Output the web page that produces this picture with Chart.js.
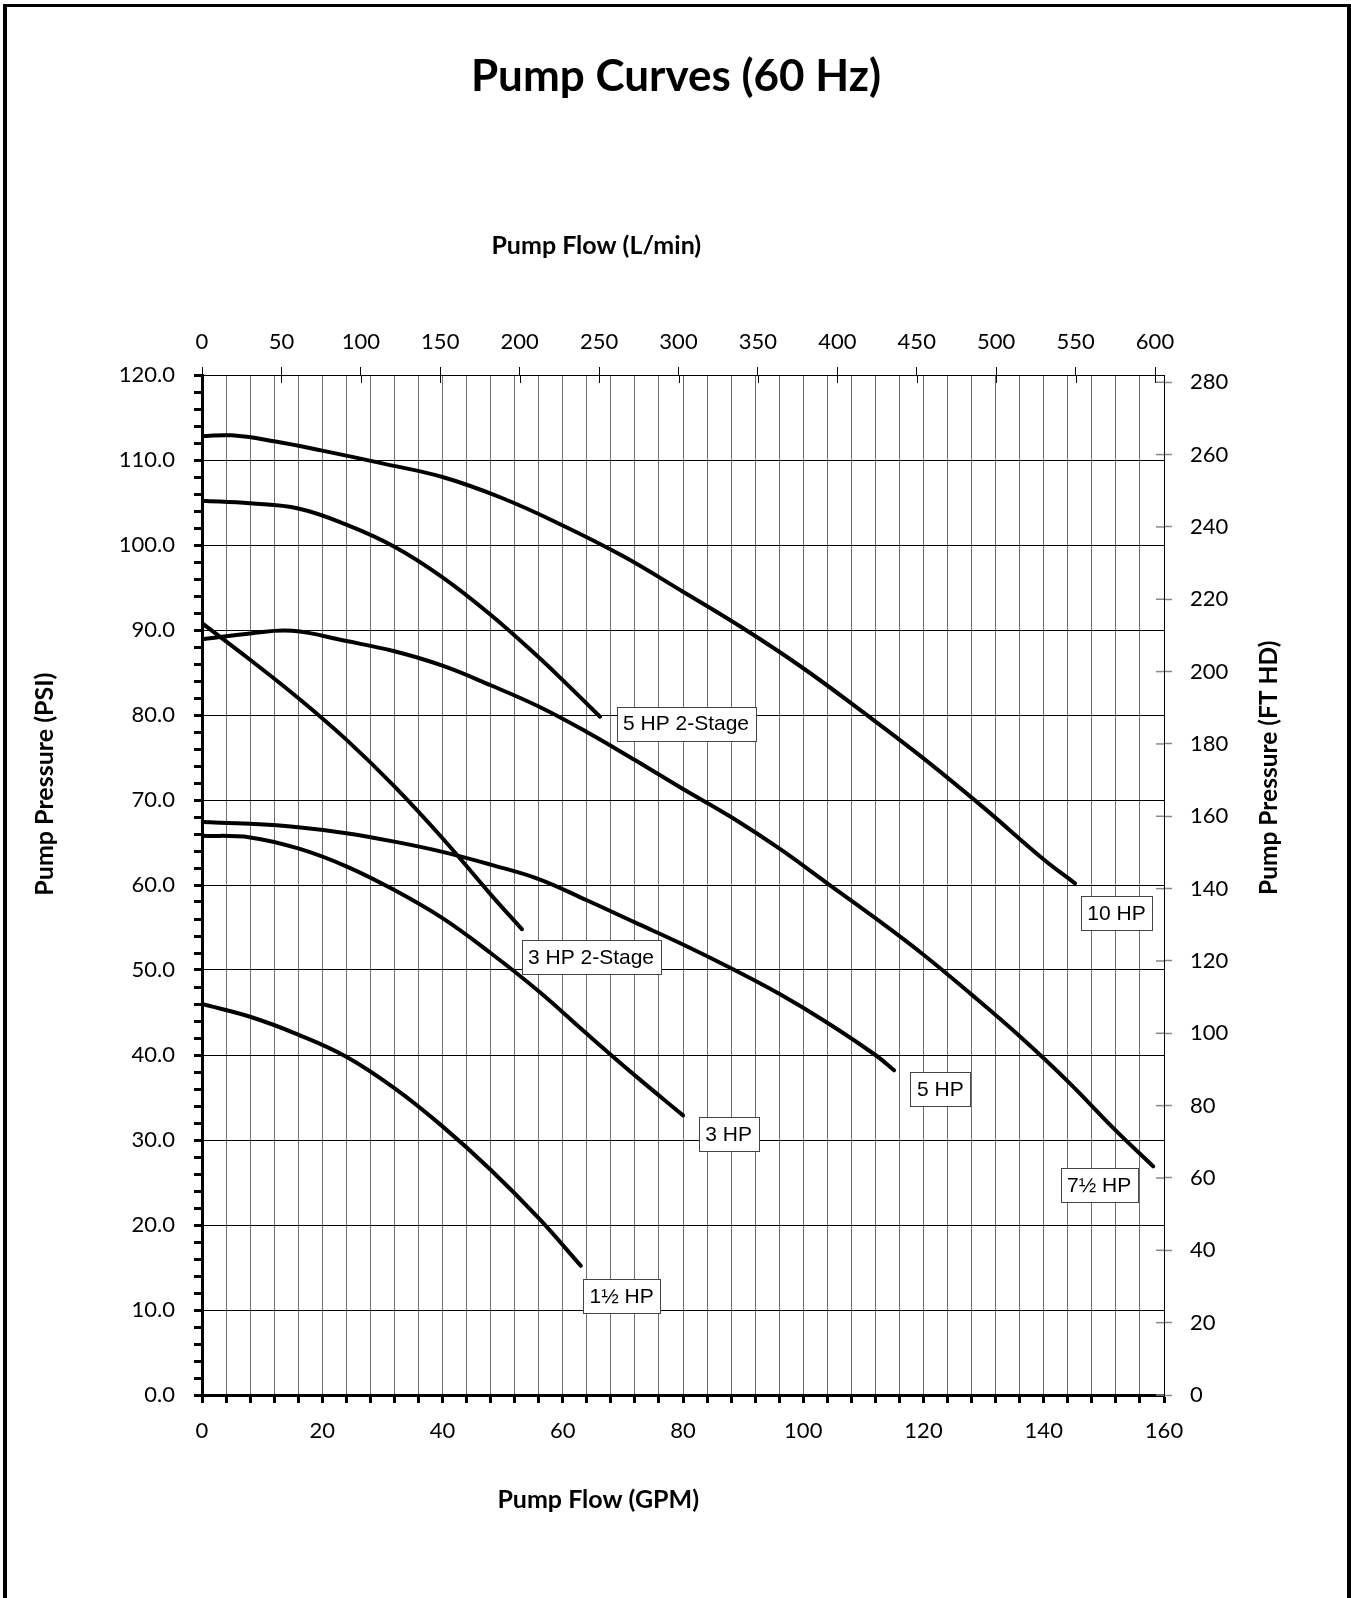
<!DOCTYPE html>
<html>
<head>
<meta charset="utf-8">
<title>Pump Curves (60 Hz)</title>
<script src="https://cdn.jsdelivr.net/npm/chart.js@4.4.1/dist/chart.umd.min.js"></script>
<style>
  html, body { margin: 0; padding: 0; background: #fff; overflow: hidden; }
  #wrap { position: absolute; left: 0; top: 0; width: 1351px; height: 1598px; }
  #frame {
    position: absolute; left: 3px; top: 4px; width: 1340px; height: 1700px;
    border-left: 4px solid #000; border-top: 3px solid #000; border-right: 4px solid #000;
    pointer-events: none;
  }
</style>
</head>
<body>
<div id="wrap"><canvas id="pumpChart"></canvas></div>
<div id="frame"></div>
<script>
// curve values (GPM vs PSI)
const hp10Flow = [0, 5, 12, 20, 30, 40, 50, 60, 70, 80, 90, 100, 110, 120, 130, 140, 145.2];
const hp10Psi  = [112.8, 112.9, 112.2, 111.1, 109.6, 108.0, 105.5, 102.3, 98.7, 94.5, 90.2, 85.5, 80.3, 74.9, 69.1, 63.0, 60.2];

const hp5TwoFlow = [0, 8, 16, 24, 32, 40, 48, 56, 60, 66.2];
const hp5TwoPsi  = [105.2, 104.9, 104.3, 102.4, 99.8, 96.2, 91.8, 86.8, 84.1, 79.8];

const hp75Flow = [0, 8, 15, 24, 32, 40, 48, 56, 64, 72, 80, 88, 96, 104, 112, 120, 128, 136, 144, 152, 158.2];
const hp75Psi  = [88.9, 89.6, 89.9, 88.7, 87.5, 85.8, 83.5, 81.0, 78.0, 74.7, 71.3, 68.0, 64.3, 60.2, 56.1, 51.8, 47.1, 42.2, 36.9, 31.1, 26.9];

const hp3TwoFlow = [0, 8, 16, 24, 32, 40, 48, 53.2];
const hp3TwoPsi  = [90.8, 86.5, 82.0, 77.1, 71.6, 65.5, 58.9, 54.8];

const hp5Flow = [0, 8, 16, 24, 32, 40, 48, 56, 64, 72, 80, 88, 96, 104, 112, 115.1];
const hp5Psi  = [67.4, 67.2, 66.8, 66.1, 65.1, 63.9, 62.4, 60.7, 58.2, 55.6, 53.0, 50.2, 47.2, 43.8, 40.0, 38.2];

const hp3Flow = [0, 8, 16, 24, 32, 40, 48, 56, 64, 72, 80];
const hp3Psi  = [65.8, 65.6, 64.3, 62.2, 59.4, 56.1, 52.0, 47.5, 42.5, 37.6, 32.9];

const hp15Flow = [0, 8, 16, 24, 32, 40, 48, 56, 63];
const hp15Psi  = [46.0, 44.5, 42.4, 39.8, 36.1, 31.6, 26.5, 20.8, 15.2];

// curve label text and where its box sits (GPM, PSI)
const curveNames = ['5 HP 2-Stage', '10 HP', '3 HP 2-Stage', '5 HP', '3 HP', '7½ HP', '1½ HP'];
const labelFlow  = [80.5, 152.1, 64.7, 122.8, 87.6, 149.2, 69.8];
const labelPsi   = [79.0, 56.7, 51.5, 36.0, 30.7, 24.7, 11.6];

// axis ranges
const gpmMax = 160;
const psiMax = 120;
const GPM_TO_LPM = 3.785411784;
const PSI_TO_FT = 2.35;

function pts(flow, psi) {
  return flow.map((f, i) => ({ x: f, y: psi[i] }));
}

function curve(flow, psi) {
  return {
    data: pts(flow, psi),
    borderColor: '#000',
    borderWidth: 4,
    borderCapStyle: 'round',
    borderJoinStyle: 'round',
    pointRadius: 0,
    fill: false,
    tension: 0.4,
    xAxisID: 'x',
    yAxisID: 'y'
  };
}

// tick halves that cross into the plot on top and right axes, labels, titles
const extras = {
  id: 'extras',
  afterDatasetsDraw(chart) {
    const ctx = chart.ctx;
    const a = chart.chartArea;
    const sx = chart.scales.x, sy = chart.scales.y;
    const sx2 = chart.scales.x2, sy2 = chart.scales.y2;
    ctx.save();

    ctx.strokeStyle = '#000';
    ctx.lineWidth = 1;
    sx2.ticks.forEach(t => {
      const px = Math.round(sx2.getPixelForValue(t.value)) + 0.5;
      ctx.beginPath(); ctx.moveTo(px, a.top); ctx.lineTo(px, a.top + 8); ctx.stroke();
    });
    ctx.strokeStyle = '#888';
    ctx.lineWidth = 1.5;
    sy2.ticks.forEach(t => {
      const py = sy2.getPixelForValue(t.value);
      ctx.beginPath(); ctx.moveTo(a.right - 8, py); ctx.lineTo(a.right, py); ctx.stroke();
    });

    // curve labels
    ctx.font = '21px "Liberation Sans", Arial, sans-serif';
    ctx.textAlign = 'center';
    ctx.textBaseline = 'middle';
    curveNames.forEach((name, i) => {
      const cx = sx.getPixelForValue(labelFlow[i]);
      const cy = sy.getPixelForValue(labelPsi[i]);
      const w = Math.round(ctx.measureText(name).width + 13);
      const h = 34;
      const l = Math.round(cx - w / 2) + 0.5, t = Math.round(cy - h / 2) + 0.5;
      ctx.fillStyle = '#fff';
      ctx.fillRect(l, t, w, h);
      ctx.strokeStyle = '#444';
      ctx.lineWidth = 1;
      ctx.strokeRect(l, t, w, h);
      ctx.fillStyle = '#000';
      ctx.fillText(name, cx, cy + 1);
    });

    // titles
    const w = a.right - a.left, h = a.bottom - a.top;
    ctx.fillStyle = '#000';
    ctx.font = 'bold 44px Lato, sans-serif';
    ctx.fillText('Pump Curves (60 Hz)', a.left + w / 2 - 7, 77);

    ctx.font = 'bold 25px Lato, sans-serif';
    ctx.fillText('Pump Flow (L/min)', a.left + w * 0.413 - 3, a.top - 129);
    ctx.fillText('Pump Flow (GPM)', a.left + w * 0.415 - 3, a.bottom + 105);

    ctx.save();
    ctx.translate(45, a.top + h * 0.404 - 3);
    ctx.rotate(-Math.PI / 2);
    ctx.fillText('Pump Pressure (PSI)', 0, 0);
    ctx.restore();

    ctx.font = 'bold 24.5px Lato, sans-serif';
    ctx.save();
    ctx.translate(a.right + 105, a.top + h * 0.389 - 4);
    ctx.rotate(-Math.PI / 2);
    ctx.fillText('Pump Pressure (FT HD)', 0, 0);
    ctx.restore();

    ctx.restore();
  }
};

function draw() {
  Chart.defaults.font.family = 'Lato, sans-serif';
  Chart.defaults.color = '#000';

  new Chart(document.getElementById('pumpChart'), {
    type: 'line',
    data: {
      datasets: [
        curve(hp10Flow, hp10Psi),
        curve(hp5TwoFlow, hp5TwoPsi),
        curve(hp75Flow, hp75Psi),
        curve(hp3TwoFlow, hp3TwoPsi),
        curve(hp5Flow, hp5Psi),
        curve(hp3Flow, hp3Psi),
        curve(hp15Flow, hp15Psi)
      ]
    },
    options: {
      responsive: true,
      maintainAspectRatio: false,
      animation: false,
      layout: { padding: 0 },
      plugins: { legend: { display: false }, title: { display: false }, tooltip: { enabled: false } },
      scales: {
        x: {
          type: 'linear', position: 'bottom', min: 0, max: gpmMax,
          afterFit: s => { s.height = 203; },
          ticks: {
            stepSize: 4, autoSkip: false, maxRotation: 0, padding: 15,
            font: { size: 22 },
            callback: v => (v % 20 === 0 ? v : '')
          },
          grid: { color: '#6e6e6e', lineWidth: 1, tickColor: '#000', tickWidth: 3, tickLength: 8 },
          border: { color: '#000', width: 3 }
        },
        x2: {
          type: 'linear', position: 'top', min: 0, max: gpmMax * GPM_TO_LPM,
          afterFit: s => { s.height = 375; },
          ticks: { stepSize: 50, includeBounds: false, autoSkip: false, maxRotation: 0, padding: 12, font: { size: 22 } },
          grid: { drawOnChartArea: false, tickColor: '#000', tickWidth: 1, tickLength: 8 },
          border: { color: '#000', width: 1 }
        },
        y: {
          type: 'linear', position: 'left', min: 0, max: psiMax,
          afterFit: s => { s.width = 202; },
          ticks: {
            stepSize: 2, autoSkip: false, padding: 19,
            font: { size: 22 },
            callback: v => (v % 10 === 0 ? v.toFixed(1) : '')
          },
          grid: {
            color: c => (c.tick && c.tick.value % 10 === 0 ? '#000' : 'rgba(0,0,0,0)'),
            lineWidth: 1, tickColor: '#000', tickWidth: 3, tickLength: 8
          },
          border: { color: '#000', width: 3 }
        },
        y2: {
          type: 'linear', position: 'right', min: 0, max: psiMax * PSI_TO_FT,
          afterFit: s => { s.width = 187; },
          ticks: { stepSize: 20, includeBounds: false, autoSkip: false, padding: 18, font: { size: 22 } },
          grid: { drawOnChartArea: false, tickColor: '#888', tickWidth: 1.5, tickLength: 8 },
          border: { color: '#000', width: 1 }
        }
      }
    },
    plugins: [extras]
  });
}

Promise.all([
  document.fonts.load('22px Lato'),
  document.fonts.load('bold 24px Lato'),
  document.fonts.load('21px "Liberation Sans"')
]).catch(() => {}).then(draw);
</script>
</body>
</html>
